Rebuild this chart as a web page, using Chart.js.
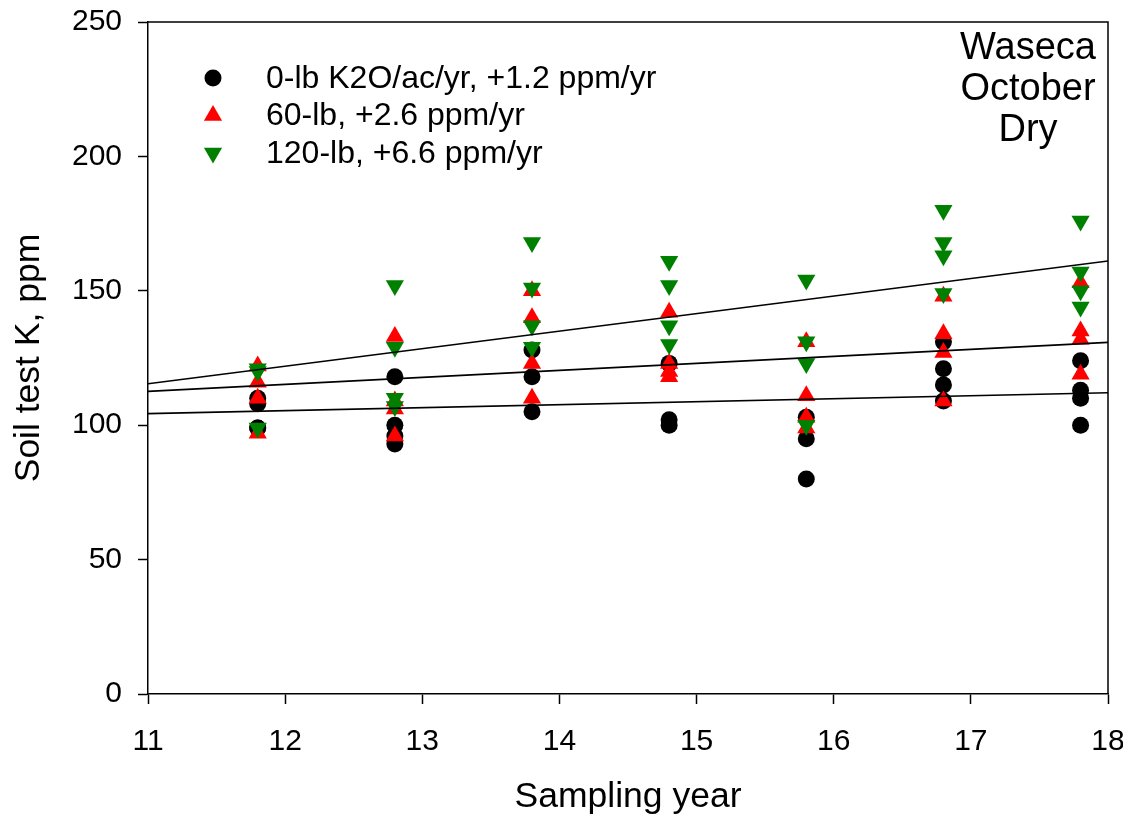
<!DOCTYPE html>
<html>
<head>
<meta charset="utf-8">
<script src="https://cdn.jsdelivr.net/npm/chart.js@4.4.1/dist/chart.umd.min.js"></script>
<style>
  html, body { margin: 0; padding: 0; background: #ffffff; }
  #wrap { width: 1123px; height: 825px; }
</style>
</head>
<body>
<div id="wrap"><canvas id="c" width="1123" height="825"></canvas></div>
<script>
// ---- data ----
const sampleYears = [11.8, 12.8, 13.8, 14.8, 15.8, 16.8, 17.8];

const zeroLbValues = [
  [110, 108, 99, 99],
  [118, 100, 96, 93],
  [128, 118, 105],
  [123, 102, 100],
  [103, 95, 80],
  [131, 121, 115, 109],
  [124, 113, 110, 100]
];
const sixtyLbValues = [
  [122, 116, 110, 97],
  [133, 109, 106, 96],
  [150, 140, 123, 110],
  [142, 123, 120, 118],
  [131, 111, 103, 99],
  [148, 134, 127, 109],
  [153, 135, 132, 119]
];
const oneTwentyLbValues = [
  [121, 120, 99],
  [152, 129, 110, 107],
  [168, 151, 137, 129],
  [161, 152, 137, 130],
  [154, 131, 123, 100],
  [180, 168, 163, 149],
  [176, 157, 150, 144]
];

// regression lines: value at x = 11 and x = 18
const trendX = [11, 18];
const zeroLbTrend = [104.3, 112.1];
const sixtyLbTrend = [112.6, 130.8];
const oneTwentyLbTrend = [115.4, 161.1];

const seriesLabels = [
  '0-lb K2O/ac/yr, +1.2 ppm/yr',
  '60-lb, +2.6 ppm/yr',
  '120-lb, +6.6 ppm/yr'
];
const siteLines = ['Waseca', 'October', 'Dry'];
const xTicks = [11, 12, 13, 14, 15, 16, 17, 18];
const yTicks = [0, 50, 100, 150, 200, 250];

// ---- helpers ----
function toPoints(years, groups) {
  const pts = [];
  groups.forEach((g, i) => g.forEach(v => pts.push({ x: years[i], y: v })));
  return pts;
}
function toLine(xs, ys) { return xs.map((x, i) => ({ x: x, y: ys[i] })); }

const FONT = "'Liberation Sans', Arial, Helvetica, sans-serif";

const styles = [
  { color: '#000000', pointStyle: 'circle', radius: 8.5, rotation: 0 },
  { color: '#ff0000', pointStyle: 'triangle', radius: 10.5, rotation: 0 },
  { color: '#008000', pointStyle: 'triangle', radius: 10.5, rotation: 180 }
];

function pointDataset(label, data, st, order) {
  return {
    type: 'scatter', label: label, data: data, order: order,
    pointStyle: st.pointStyle, pointRadius: st.radius, pointRotation: st.rotation,
    backgroundColor: st.color, borderColor: st.color, borderWidth: 0,
    pointHoverRadius: st.radius
  };
}
function lineDataset(data) {
  return {
    type: 'line', data: data, order: 0, showLine: true,
    borderColor: '#000000', borderWidth: 1.6, pointRadius: 0, fill: false, tension: 0
  };
}

function noOverflow(s) {
  s.paddingTop = 0; s.paddingBottom = 0; s.paddingLeft = 0; s.paddingRight = 0;
}

const overlayPlugin = {
  id: 'overlay',
  afterDraw(chart) {
    const ctx = chart.ctx;
    const a = chart.chartArea;
    ctx.save();
    // frame (top and right sides)
    ctx.strokeStyle = '#000';
    ctx.lineWidth = 1.5;
    ctx.beginPath();
    ctx.moveTo(a.left, a.top);
    ctx.lineTo(a.right, a.top);
    ctx.lineTo(a.right, a.bottom);
    ctx.stroke();

    // legend
    const lx = 213, ly0 = 78, dy = 37.5;
    ctx.font = '32px ' + FONT;
    ctx.textBaseline = 'middle';
    ctx.textAlign = 'left';
    seriesLabels.forEach((lab, i) => {
      const st = styles[i];
      const y = ly0 + i * dy;
      ctx.fillStyle = st.color;
      ctx.beginPath();
      if (st.pointStyle === 'circle') {
        ctx.arc(lx, y, st.radius, 0, Math.PI * 2);
      } else {
        const r = st.radius;
        const sgn = st.rotation === 180 ? -1 : 1;
        ctx.moveTo(lx, y - sgn * r);
        ctx.lineTo(lx + r * Math.sin(Math.PI * 2 / 3), y + sgn * r / 2);
        ctx.lineTo(lx - r * Math.sin(Math.PI * 2 / 3), y + sgn * r / 2);
        ctx.closePath();
      }
      ctx.fill();
      ctx.fillStyle = '#000';
      ctx.fillText(lab, 266, y + 1);
    });

    // site annotation
    ctx.font = '38px ' + FONT;
    ctx.textAlign = 'center';
    siteLines.forEach((t, i) => ctx.fillText(t, 1028, 49 + i * 41));
    ctx.restore();
  }
};

new Chart(document.getElementById('c'), {
  type: 'scatter',
  data: {
    datasets: [
      lineDataset(toLine(trendX, zeroLbTrend)),
      lineDataset(toLine(trendX, sixtyLbTrend)),
      lineDataset(toLine(trendX, oneTwentyLbTrend)),
      pointDataset(seriesLabels[2], toPoints(sampleYears, oneTwentyLbValues), styles[2], 1),
      pointDataset(seriesLabels[1], toPoints(sampleYears, sixtyLbValues), styles[1], 2),
      pointDataset(seriesLabels[0], toPoints(sampleYears, zeroLbValues), styles[0], 3)
    ]
  },
  options: {
    responsive: false,
    animation: false,
    devicePixelRatio: 1,
    layout: { padding: { top: 22, right: 15, left: 0, bottom: 0 } },
    plugins: { legend: { display: false }, tooltip: { enabled: false } },
    scales: {
      x: {
        type: 'linear', min: 11, max: 18,
        afterBuildTicks: s => { s.ticks = xTicks.map(v => ({ value: v })); },
        afterFit: s => { s.height = 131; noOverflow(s); },
        ticks: { color: '#000', font: { family: FONT, size: 30 }, padding: 20, maxRotation: 0 },
        grid: { drawOnChartArea: false, drawTicks: true, tickLength: 10, color: '#000', tickWidth: 1.5 },
        border: { display: true, color: '#000', width: 1.5 },
        title: { display: true, text: 'Sampling year', color: '#000', font: { family: FONT, size: 35.5 }, padding: { top: 0, bottom: 6 } }
      },
      y: {
        type: 'linear', min: 0, max: 250,
        afterBuildTicks: s => { s.ticks = yTicks.map(v => ({ value: v })); },
        afterFit: s => { s.width = 148; noOverflow(s); },
        ticks: { color: '#000', font: { family: FONT, size: 30 }, padding: 16 },
        grid: { drawOnChartArea: false, drawTicks: true, tickLength: 10, color: '#000', tickWidth: 1.5 },
        border: { display: true, color: '#000', width: 1.5 },
        title: { display: true, text: 'Soil test K, ppm', color: '#000', font: { family: FONT, size: 35.5 }, padding: { top: 8, bottom: 0 } }
      }
    }
  },
  plugins: [overlayPlugin]
});
</script>
</body>
</html>
